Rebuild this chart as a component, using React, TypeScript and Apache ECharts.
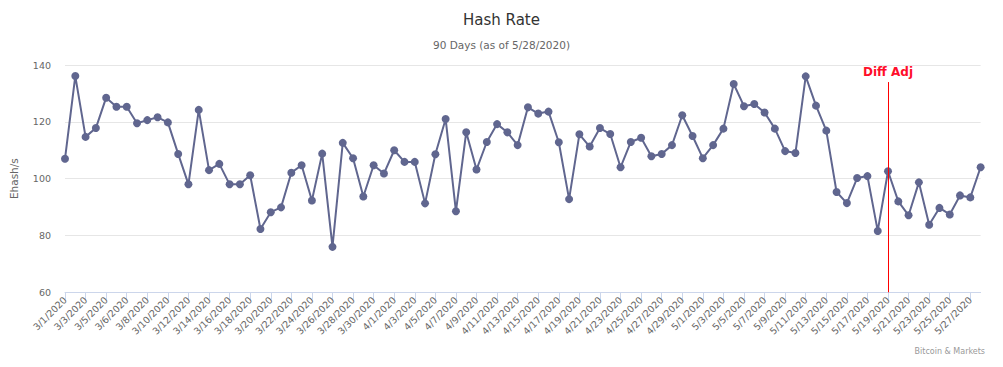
import React, { useEffect, useRef } from "react";
import * as echarts from "echarts";

const categories: string[] = [
  "3/1/2020", "3/2/2020", "3/3/2020", "3/4/2020", "3/5/2020", "3/5/2020", "3/6/2020", "3/7/2020", "3/8/2020", "3/9/2020",
  "3/10/2020", "3/11/2020", "3/12/2020", "3/13/2020", "3/14/2020", "3/15/2020", "3/16/2020", "3/17/2020", "3/18/2020", "3/19/2020",
  "3/20/2020", "3/21/2020", "3/22/2020", "3/23/2020", "3/24/2020", "3/25/2020", "3/26/2020", "3/27/2020", "3/28/2020", "3/29/2020",
  "3/30/2020", "3/31/2020", "4/1/2020", "4/2/2020", "4/3/2020", "4/4/2020", "4/5/2020", "4/6/2020", "4/7/2020", "4/8/2020",
  "4/9/2020", "4/10/2020", "4/11/2020", "4/12/2020", "4/13/2020", "4/14/2020", "4/15/2020", "4/16/2020", "4/17/2020", "4/18/2020",
  "4/19/2020", "4/20/2020", "4/21/2020", "4/22/2020", "4/23/2020", "4/24/2020", "4/25/2020", "4/26/2020", "4/27/2020", "4/28/2020",
  "4/29/2020", "4/30/2020", "5/1/2020", "5/2/2020", "5/3/2020", "5/4/2020", "5/5/2020", "5/6/2020", "5/7/2020", "5/8/2020",
  "5/9/2020", "5/10/2020", "5/11/2020", "5/12/2020", "5/13/2020", "5/14/2020", "5/15/2020", "5/16/2020", "5/17/2020", "5/18/2020",
  "5/19/2020", "5/20/2020", "5/21/2020", "5/22/2020", "5/23/2020", "5/24/2020", "5/25/2020", "5/26/2020", "5/27/2020", "5/28/2020",
];

const hashRate: number[] = [
  107.0, 136.1, 114.7, 117.8, 128.5, 125.3, 125.3, 119.5, 120.6, 121.6,
  119.8, 108.7, 98.0, 124.2, 103.0, 105.2, 98.0, 98.0, 101.2, 82.3,
  88.2, 89.9, 102.1, 104.7, 92.3, 108.8, 76.0, 112.6, 107.2, 93.7,
  104.7, 101.8, 110.0, 105.9, 105.9, 91.3, 108.6, 121.0, 88.5, 116.3,
  103.2, 112.9, 119.2, 116.3, 111.8, 125.1, 122.9, 123.6, 112.8, 92.8,
  115.6, 111.3, 117.8, 115.7, 104.0, 112.9, 114.4, 107.9, 108.7, 111.8,
  122.3, 115.0, 107.2, 111.8, 117.6, 133.3, 125.5, 126.3, 123.3, 117.6,
  109.7, 109.0, 136.0, 125.7, 116.9, 95.3, 91.4, 100.2, 100.9, 81.6,
  102.6, 92.0, 87.1, 98.7, 83.8, 89.7, 87.4, 94.1, 93.4, 104.0,
];

const yTicks = { min: 60, max: 140, interval: 20 };
const diffAdjDate = "5/19/2020";
const diffAdjLabel = "Diff Adj";
const titleText = "Hash Rate";
const subtitleText = "90 Days (as of 5/28/2020)";
const yAxisName = "Ehash/s";
const creditsText = "Bitcoin & Markets";

const FONT = "DejaVu Sans";

export default function App() {
  const ref = useRef<HTMLDivElement>(null);
  useEffect(() => {
    document.body.style.margin = "0";
    const chart = echarts.init(ref.current!, null, { renderer: "svg" });
    chart.setOption({
      animation: false,
      backgroundColor: "#ffffff",
      textStyle: { fontFamily: FONT },
      title: {
        text: titleText,
        subtext: subtitleText,
        left: "center",
        top: 7,
        itemGap: 12,
        textStyle: { fontFamily: FONT, fontSize: 15, fontWeight: "normal", color: "#333333" },
        subtextStyle: { fontFamily: FONT, fontSize: 10.5, color: "#666666" },
      },
      grid: { left: 63.3, right: 22.4, top: 65, bottom: 74.7, containLabel: false },
      xAxis: {
        type: "category",
        data: categories,
        boundaryGap: false,
        axisLine: { lineStyle: { color: "#ccd6eb", width: 1 } },
        axisTick: { show: true, interval: 1, length: 7, lineStyle: { color: "#ccd6eb" } },
        axisLabel: {
          interval: 1,
          rotate: 45,
          fontFamily: FONT,
          fontSize: 9.5,
          color: "#666666",
          margin: 6,
        },
        splitLine: { show: false },
      },
      yAxis: {
        type: "value",
        min: yTicks.min,
        max: yTicks.max,
        interval: yTicks.interval,
        name: yAxisName,
        nameLocation: "middle",
        nameGap: 46,
        nameRotate: 90,
        nameTextStyle: { fontFamily: FONT, fontSize: 10.5, color: "#666666" },
        axisLine: { show: false },
        axisTick: { show: false },
        axisLabel: { fontFamily: FONT, fontSize: 9.5, color: "#666666", margin: 14 },
        splitLine: { lineStyle: { color: "#e6e6e6", width: 1 } },
      },
      series: [
        {
          type: "line",
          data: hashRate,
          symbol: "circle",
          symbolSize: 8,
          showAllSymbol: true,
          lineStyle: { color: "#60668f", width: 2 },
          itemStyle: { color: "#60668f" },
          markLine: {
            silent: true,
            symbol: ["none", "none"],
            lineStyle: { color: "#ff0000", width: 1, type: "solid" },
            label: {
              show: true,
              position: "end",
              formatter: diffAdjLabel,
              color: "#ff0d2a",
              fontFamily: FONT,
              fontWeight: "bold",
              fontSize: 12,
              distance: 4,
            },
            data: [
              [
                { coord: [diffAdjDate, 60] },
                { coord: [diffAdjDate, 134] },
              ],
            ],
          },
        },
      ],
      graphic: [
        {
          type: "text",
          right: 18,
          top: 347,
          style: { text: creditsText, fontFamily: FONT, fontSize: 8, fill: "#999999" },
        },
      ],
    });
    return () => chart.dispose();
  }, []);
  return <div ref={ref} style={{ position: "absolute", left: 0, top: 0, width: 1003, height: 367 }} />;
}
